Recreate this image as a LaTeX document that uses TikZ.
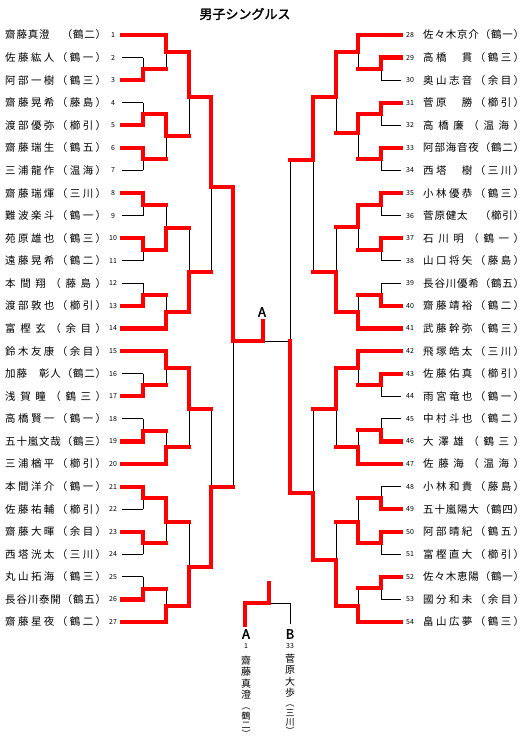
\documentclass[tikz,border=0pt]{standalone}
\usepackage{fontspec}
\newfontfamily\jp[AutoFakeBold=2]{Noto Sans CJK JP}
\pgfdeclarelayer{back}
\pgfdeclarelayer{bg}
\pgfsetlayers{back,bg,main}
\makeatletter
\newcommand\bkspread[2]{\hbox to #1{\def\bk@sep{}\@for\bk@item:=#2\do{\bk@sep\bk@item\def\bk@sep{\hfill}}}}
\makeatother
\def\bkwinword{win}
\newcommand\seg[3]{\def\bktmp{#1}\ifx\bktmp\bkwinword\draw[win] (#2) -- (#3);\else\begin{pgfonlayer}{bg}\draw[lose] (#2) -- (#3);\end{pgfonlayer}\fi}
\newcommand\mt[8][win]{%
  \coordinate (#2t) at (#3,#4);
  \coordinate (#2b) at (#3,#5);
  \coordinate (#2) at (#3,#6);
  \coordinate (#2o) at (#8,#6);
  \if#7t\seg{win}{#2t}{#2}\seg{lose}{#2}{#2b}\else\seg{lose}{#2t}{#2}\seg{win}{#2}{#2b}\fi
  \seg{#1}{#2}{#2o}}
\newcommand\pL[5]{%
  \node[nm] (n#1) at (5,#2) {\bkspread{101pt}{#5}};
  \node[num] (k#1) at (113,#2) {#1};
  \coordinate (p#1s) at (122,#2);
  \coordinate (p#1e) at (#3,#2);
  \seg{#4}{p#1s}{p#1e}}
\newcommand\pR[5]{%
  \node[nm] (n#1) at (423,#2) {\bkspread{101pt}{#5}};
  \node[num] (k#1) at (410,#2) {#1};
  \coordinate (p#1s) at (401,#2);
  \coordinate (p#1e) at (#3,#2);
  \seg{#4}{p#1s}{p#1e}}
\tikzset{
  win/.style={draw=red, line width=4.2pt, line cap=rect},
  lose/.style={draw=black, line width=1pt},
  nm/.style={inner sep=0pt, anchor=west, font=\jp\fontsize{10.5}{10.5}\selectfont},
  num/.style={inner sep=0pt, font=\jp\fontsize{7}{7}\selectfont},
  lettr/.style={inner sep=0pt, font=\jp\bfseries\fontsize{13}{13}\selectfont},
  vname/.style={inner sep=0pt, anchor=north, align=center, font=\jp\fontsize{10}{11.2}\selectfont},
  vaff/.style={inner sep=0pt, anchor=north, align=center, font=\jp\fontsize{9}{9.3}\selectfont},
}
\begin{document}
\begin{tikzpicture}[x=1pt,y=-1pt]
\begin{pgfonlayer}{back}
\fill[white] (0,0) rectangle (525,751);
\end{pgfonlayer}
\useasboundingbox (0,0) rectangle (525,751);
\node[lettr] (title) at (245,14) {男子シングルス};
% left players
\pL{1}{35.0}{166}{win}{齋,藤,真,澄,　,（,鶴,二,）}
\pL{2}{57.6}{143}{lose}{佐,藤,紘,人,（,鶴,一,）}
\pL{3}{80.2}{143}{win}{阿,部,一,樹,（,鶴,三,）}
\pL{4}{102.7}{143}{lose}{齋,藤,晃,希,（,藤,島,）}
\pL{5}{125.3}{143}{win}{渡,部,優,弥,（,櫛,引,）}
\pL{6}{147.9}{143}{win}{齋,藤,瑞,生,（,鶴,五,）}
\pL{7}{170.5}{143}{lose}{三,浦,龍,作,（,温,海,）}
\pL{8}{193.1}{143}{win}{齋,藤,瑞,煇,（,三,川,）}
\pL{9}{215.6}{143}{lose}{難,波,楽,斗,（,鶴,一,）}
\pL{10}{238.2}{143}{win}{苑,原,雄,也,（,鶴,三,）}
\pL{11}{260.8}{143}{lose}{遠,藤,晃,希,（,鶴,二,）}
\pL{12}{283.4}{143}{lose}{本,間,翔,（,藤,島,）}
\pL{13}{305.9}{143}{win}{渡,部,敦,也,（,櫛,引,）}
\pL{14}{328.5}{166}{win}{富,樫,玄,（,余,目,）}
\pL{15}{351.1}{166}{win}{鈴,木,友,康,（,余,目,）}
\pL{16}{373.7}{143}{lose}{加,藤,　,彰,人,（,鶴,二,）}
\pL{17}{396.3}{143}{win}{浅,賀,瞳,（,鶴,三,）}
\pL{18}{418.8}{143}{lose}{高,橋,賢,一,（,鶴,一,）}
\pL{19}{441.4}{143}{win}{五,十,嵐,文,哉,（,鶴,三,）}
\pL{20}{464.0}{166}{win}{三,浦,楢,平,（,櫛,引,）}
\pL{21}{486.6}{143}{win}{本,間,洋,介,（,鶴,一,）}
\pL{22}{509.1}{143}{lose}{佐,藤,祐,輔,（,櫛,引,）}
\pL{23}{531.7}{143}{win}{齋,藤,大,暉,（,余,目,）}
\pL{24}{554.3}{143}{lose}{西,塔,洸,太,（,三,川,）}
\pL{25}{576.9}{143}{lose}{丸,山,拓,海,（,鶴,三,）}
\pL{26}{599.4}{143}{win}{長,谷,川,泰,開,（,鶴,五,）}
\pL{27}{622.0}{166}{win}{齋,藤,星,夜,（,鶴,二,）}
% right players
\pR{28}{35.0}{358}{win}{佐,々,木,京,介,（,鶴,一,）}
\pR{29}{57.6}{381}{win}{高,橋,　,貫,（,鶴,三,）}
\pR{30}{80.2}{381}{lose}{奥,山,志,音,（,余,目,）}
\pR{31}{102.7}{381}{win}{菅,原,　,勝,（,櫛,引,）}
\pR{32}{125.3}{381}{lose}{高,橋,廉,（,温,海,）}
\pR{33}{147.9}{381}{win}{阿,部,海,音,夜,（,鶴,二,）}
\pR{34}{170.5}{381}{lose}{西,塔,　,樹,（,三,川,）}
\pR{35}{193.1}{381}{win}{小,林,優,恭,（,鶴,三,）}
\pR{36}{215.6}{381}{lose}{菅,原,健,太,　,（,櫛,引,）}
\pR{37}{238.2}{381}{win}{石,川,明,（,鶴,一,）}
\pR{38}{260.8}{381}{lose}{山,口,将,矢,（,藤,島,）}
\pR{39}{283.4}{381}{lose}{長,谷,川,優,希,（,鶴,五,）}
\pR{40}{305.9}{381}{win}{齋,藤,靖,裕,（,鶴,二,）}
\pR{41}{328.5}{358}{win}{武,藤,幹,弥,（,鶴,三,）}
\pR{42}{351.1}{358}{win}{飛,塚,皓,太,（,三,川,）}
\pR{43}{373.7}{381}{win}{佐,藤,佑,真,（,櫛,引,）}
\pR{44}{396.3}{381}{lose}{雨,宮,竜,也,（,鶴,一,）}
\pR{45}{418.8}{381}{lose}{中,村,斗,也,（,鶴,二,）}
\pR{46}{441.4}{381}{win}{大,澤,雄,（,鶴,三,）}
\pR{47}{464.0}{358}{win}{佐,藤,海,（,温,海,）}
\pR{48}{486.6}{381}{lose}{小,林,和,貴,（,藤,島,）}
\pR{49}{509.1}{381}{win}{五,十,嵐,陽,大,（,鶴,四,）}
\pR{50}{531.7}{381}{win}{阿,部,晴,紀,（,鶴,五,）}
\pR{51}{554.3}{381}{lose}{富,樫,直,大,（,櫛,引,）}
\pR{52}{576.9}{381}{win}{佐,々,木,恵,陽,（,鶴,一,）}
\pR{53}{599.4}{381}{lose}{國,分,和,未,（,余,目,）}
\pR{54}{622.0}{358}{win}{畠,山,広,夢,（,鶴,三,）}
% left round 1
\mt{la2}{143}{57.6}{80.2}{69}{b}{166}
\mt{la4}{143}{102.7}{125.3}{114}{b}{166}
\mt{la6}{143}{147.9}{170.5}{159}{t}{166}
\mt{la8}{143}{193.1}{215.6}{205}{t}{166}
\mt{la10}{143}{238.2}{260.8}{250}{t}{166}
\mt{la12}{143}{283.4}{305.9}{295}{b}{166}
\mt{la16}{143}{373.7}{396.3}{385}{b}{166}
\mt{la18}{143}{418.8}{441.4}{431}{b}{166}
\mt{la21}{143}{486.6}{509.1}{498}{t}{166}
\mt{la23}{143}{531.7}{554.3}{543}{t}{166}
\mt{la25}{143}{576.9}{599.4}{589}{b}{166}
% left round 2
\mt{lb1}{166}{35}{69}{52}{t}{189}
\mt{lb4}{166}{114}{159}{136}{t}{189}
\mt{lb8}{166}{205}{250}{228}{b}{189}
\mt{lb12}{166}{295}{328.5}{312}{b}{189}
\mt{lb15}{166}{351.1}{385}{368}{t}{189}
\mt{lb18}{166}{431}{464}{447}{b}{189}
\mt{lb21}{166}{498}{543}{522}{t}{189}
\mt{lb25}{166}{589}{622}{606}{b}{189}
% left round 3
\mt{lc1}{189}{52}{136}{97}{t}{211}
\mt{lc8}{189}{228}{312}{272}{b}{211}
\mt{lc15}{189}{368}{447}{409}{t}{211}
\mt{lc21}{189}{522}{606}{567}{b}{211}
% left round 4, 5
\mt{ld1}{211}{97}{272}{187}{t}{233}
\mt{ld15}{211}{409}{567}{487}{b}{233}
\mt{le}{233}{187}{487}{341}{t}{263}
% right round 1
\mt{ra29}{381}{57.6}{80.2}{69}{t}{358}
\mt{ra31}{381}{102.7}{125.3}{114}{t}{358}
\mt{ra33}{381}{147.9}{170.5}{159}{t}{358}
\mt{ra35}{381}{193.1}{215.6}{205}{t}{358}
\mt{ra37}{381}{238.2}{260.8}{250}{t}{358}
\mt{ra39}{381}{283.4}{305.9}{295}{b}{358}
\mt{ra43}{381}{373.7}{396.3}{385}{t}{358}
\mt{ra45}{381}{418.8}{441.4}{430}{b}{358}
\mt{ra48}{381}{486.6}{509.1}{498}{b}{358}
\mt{ra50}{381}{531.7}{554.3}{543}{t}{358}
\mt{ra52}{381}{576.9}{599.4}{588}{t}{358}
% right round 2
\mt{rb28}{358}{35}{69}{52}{t}{336}
\mt{rb31}{358}{114}{159}{133}{t}{336}
\mt{rb35}{358}{205}{250}{227}{t}{336}
\mt{rb39}{358}{295}{328.5}{312}{b}{336}
\mt{rb42}{358}{351.1}{385}{368}{t}{336}
\mt{rb45}{358}{430}{464}{447}{b}{336}
\mt{rb48}{358}{498}{543}{522}{b}{336}
\mt{rb52}{358}{588}{622}{606}{b}{336}
% right round 3
\mt{rc28}{336}{52}{133}{97}{t}{313}
\mt{rc35}{336}{227}{312}{272}{b}{313}
\mt{rc42}{336}{368}{447}{409}{t}{313}
\mt{rc48}{336}{522}{606}{560}{b}{313}
% right round 4, 5
\mt{rd28}{313}{97}{272}{160}{t}{290}
\mt{rd42}{313}{409}{560}{493}{b}{290}
\mt[lose]{re}{290}{160}{493}{341}{b}{263}
% block final
\coordinate (aup) at (263,321);
\draw[win] (leo) -- (aup);
\node[lettr] (acenter) at (262,312) {A};
% final
\coordinate (fa) at (245,627);
\coordinate (fat) at (245,603);
\coordinate (fm) at (269,603);
\coordinate (fup) at (269,581);
\coordinate (fbt) at (290,603);
\coordinate (fb) at (290,624);
\draw[win, line cap=butt] (fa) -- (fat) -- (fm) -- (fup);
\begin{pgfonlayer}{bg}\draw[lose] (fm) -- (fbt) -- (fb);\end{pgfonlayer}
\node[lettr] (la) at (246,634) {A};
\node[lettr] (lb) at (290,634) {B};
\node[num] (na) at (246,646) {1};
\node[num] (nb) at (290,646) {33};
\node[vname] (va) at (246,656) {齋\\藤\\真\\澄};
\node[vaff] (vaf) at (246,708) {︵\\鶴\\二\\︶};
\node[vname] (vb) at (290,654) {菅\\原\\大\\歩};
\node[vaff] (vbf) at (290,705) {︵\\三\\川\\︶};
\end{tikzpicture}
\end{document}
